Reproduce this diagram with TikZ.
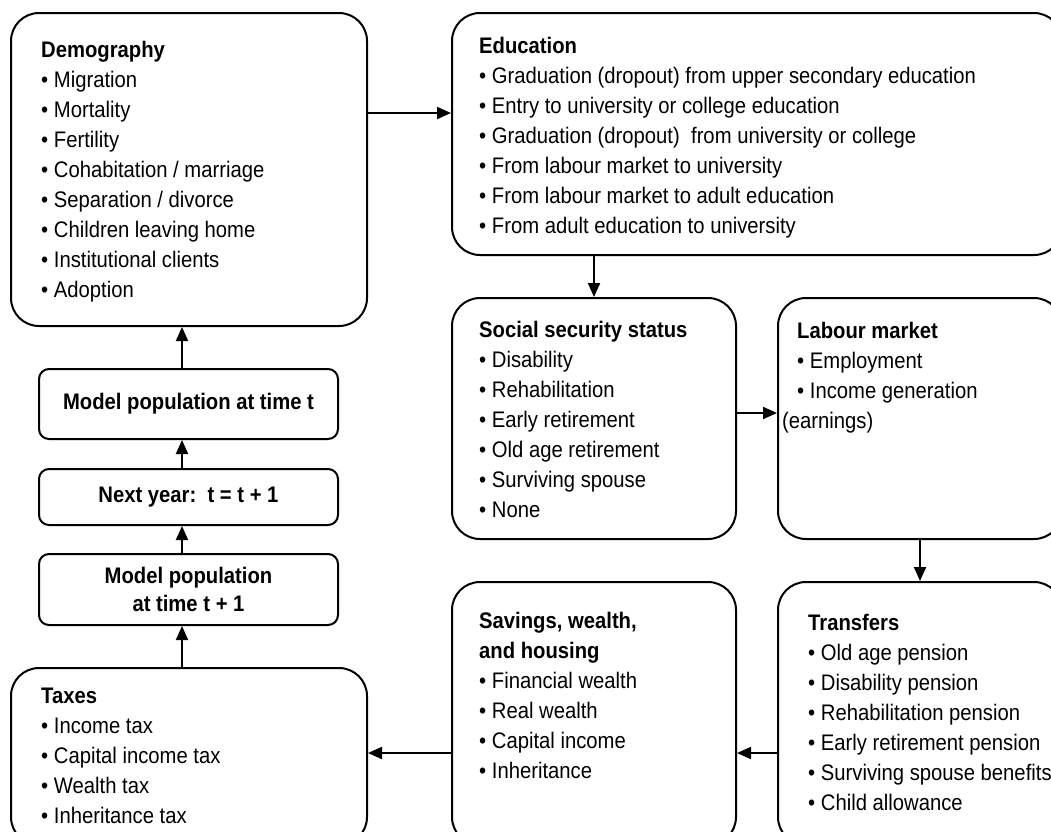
\documentclass[tikz,border=0pt]{standalone}
\usepackage{fontspec}
\setmainfont[FakeStretch=0.9]{Liberation Sans}
\usetikzlibrary{arrows.meta}
\begin{document}
\begin{tikzpicture}[x=1pt,y=-1pt,
  box/.style={draw, line width=2pt, rounded corners=28pt, inner sep=0pt},
  sbox/.style={draw, line width=2pt, rounded corners=10pt, inner sep=0pt, minimum width=299pt},
  txt/.style={anchor=base west, align=left, inner sep=0pt, font=\fontsize{22.5}{30}\selectfont},
  ctxt/.style={align=center, inner sep=0pt, font=\fontsize{22.5}{28}\selectfont\bfseries},
  arr/.style={line width=2pt, -{Triangle[length=14pt,width=12pt]}}]
\useasboundingbox (0,0) rectangle (1051,831);
\clip (0,0) rectangle (1051,831);
% boxes
\node[box, minimum width=356pt, minimum height=313pt] (demo) at (189,169.5) {};
\node[box, minimum width=610pt, minimum height=242pt] (edu) at (757,134) {};
\node[box, minimum width=284pt, minimum height=241pt] (ss) at (594,418.5) {};
\node[box, minimum width=284pt, minimum height=241pt] (lab) at (920,418.5) {};
\node[box, minimum width=284pt, minimum height=263pt] (trans) at (920,713.5) {};
\node[box, minimum width=284pt, minimum height=263pt] (sav) at (594,713.5) {};
\node[box, minimum width=356pt, minimum height=177pt] (tax) at (189,756.5) {};
\node[sbox, minimum height=70pt] (mpt) at (188.5,404) {};
\node[sbox, minimum height=56pt] (ny) at (188.5,497) {};
\node[sbox, minimum height=71pt] (mp1) at (188.5,589.5) {};
% texts (anchored at the baseline of their last line)
\node[txt] (demot) at (41,297) {\textbf{Demography}\\• Migration\\• Mortality\\• Fertility\\• Cohabitation / marriage\\• Separation / divorce\\• Children leaving home\\• Institutional clients\\• Adoption};
\node[txt] (edut) at (479,233) {\textbf{Education}\\• Graduation (dropout) from upper secondary education\\• Entry to university or college education\\• Graduation (dropout)\ \ from university or college\\• From labour market to university\\• From labour market to adult education\\• From adult education to university};
\node[txt] (sst) at (479,517) {\textbf{Social security status}\\• Disability\\• Rehabilitation\\• Early retirement\\• Old age retirement\\• Surviving spouse\\• None};
\node[txt] (labt) at (797,398) {\textbf{Labour market}\\• Employment\\• Income generation};
\node[txt] (labt2) at (782,428) {(earnings)};
\node[txt] (transt) at (808,810) {\textbf{Transfers}\\• Old age pension\\• Disability pension\\• Rehabilitation pension\\• Early retirement pension\\• Surviving spouse benefits\\• Child allowance};
\node[txt] (savt) at (479,778) {\textbf{Savings, wealth,}\\\textbf{and housing}\\• Financial wealth\\• Real wealth\\• Capital income\\• Inheritance};
\node[txt] (taxt) at (41,823) {\textbf{Taxes}\\• Income tax\\• Capital income tax\\• Wealth tax\\• Inheritance tax};
\node[ctxt] (mptt) at (mpt.center) {Model population at time t};
\node[ctxt] (nyt) at (ny.center) {Next year:\ \ t = t + 1};
\node[ctxt] (mp1t) at (mp1.center) {Model population\\at time t + 1};
% arrows
\draw[arr] (demo.east |- 0,113) -- (edu.west |- 0,113);
\draw[arr] (edu.south -| ss.north) -- (ss.north);
\draw[arr] (ss.east |- 0,413) -- (lab.west |- 0,413);
\draw[arr] (lab.south) -- (trans.north);
\draw[arr] (trans.west |- 0,753) -- (sav.east |- 0,753);
\draw[arr] (sav.west |- 0,753) -- (tax.east |- 0,753);
\draw[arr] (tax.north -| 182,0) -- (mp1.south -| 182,0);
\draw[arr] (mp1.north -| 182,0) -- (ny.south -| 182,0);
\draw[arr] (ny.north -| 182,0) -- (mpt.south -| 182,0);
\draw[arr] (mpt.north -| 182,0) -- (demo.south -| 182,0);
\end{tikzpicture}
\end{document}
